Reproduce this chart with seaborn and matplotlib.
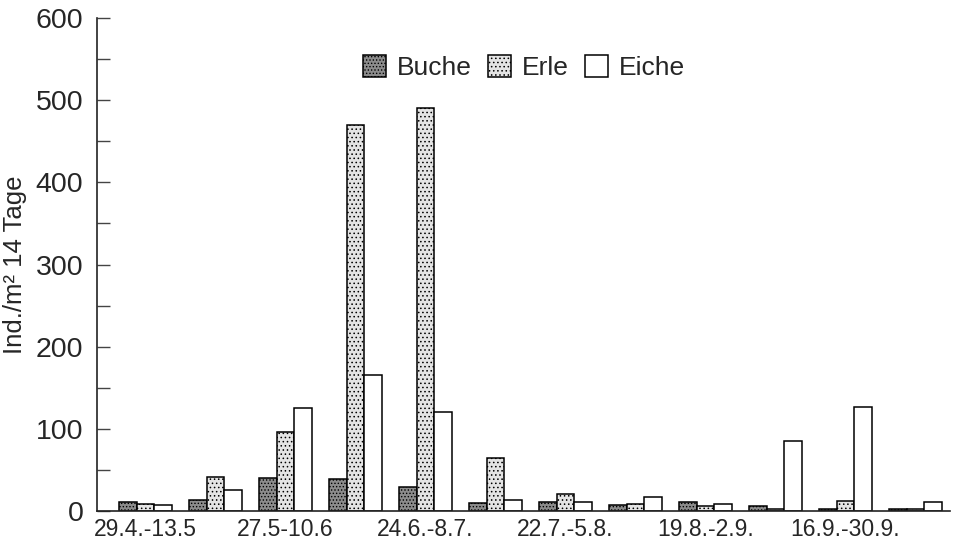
import matplotlib
matplotlib.use("Agg")
import matplotlib.pyplot as plt
from matplotlib.ticker import MultipleLocator
import pandas as pd
import seaborn as sns

periods = ['29.4.-13.5', '13.5.-27.5.', '27.5-10.6', '10.6.-24.6.', '24.6.-8.7.', '8.7.-22.7.',
           '22.7.-5.8.', '5.8.-19.8.', '19.8.-2.9.', '2.9.-16.9.', '16.9.-30.9.', '30.9.-14.10.']
buche = [11, 13, 40, 39, 29, 10, 11, 7, 11, 6, 2, 2]
erle = [9, 41, 96, 470, 490, 65, 21, 9, 6, 3, 12, 2]
eiche = [7, 26, 125, 165, 120, 13, 11, 17, 9, 85, 127, 11]
species = ['Buche', 'Erle', 'Eiche']

df = pd.DataFrame({'period': periods * 3,
                   'species': [s for s in species for _ in periods],
                   'value': buche + erle + eiche})

sns.set_style('ticks')
plt.rcParams['font.family'] = ['Liberation Sans', 'DejaVu Sans']
plt.rcParams['hatch.linewidth'] = 0.6

fig = plt.figure(figsize=(9.63, 5.46), dpi=100)
ax = fig.add_axes([0.101, 0.064, 0.886, 0.903])

colors = {'Buche': '#8c8c8c', 'Erle': '#e4e4e4', 'Eiche': 'white'}
sns.barplot(data=df, x='period', y='value', hue='species', palette=colors,
            width=0.76, edgecolor='black', linewidth=1.1, saturation=1, ax=ax)

# stipple patterns like the printed original
hatches = ['.....', '....', '']
for cont, h in zip(ax.containers, hatches):
    for bar in cont:
        bar.set_hatch(h)

ax.set_xlim(-0.69, 11.5)
ax.set_ylim(0, 600)
ax.yaxis.set_major_locator(MultipleLocator(100))
ax.yaxis.set_minor_locator(MultipleLocator(50))
ax.tick_params(axis='y', which='both', direction='in', length=9, width=1, labelsize=20.5,
               pad=10, color='#444444')
ax.tick_params(axis='x', length=0, labelsize=16.5, pad=5)
ax.set_xticks(range(len(periods)))
ax.set_xticklabels([p if i % 2 == 0 else '' for i, p in enumerate(periods)])
ax.set_xlabel('')
ax.set_ylabel('Ind./m² 14 Tage', fontsize=18.5, labelpad=6)
sns.despine(ax=ax)
for s in ['left', 'bottom']:
    ax.spines[s].set_linewidth(1.2)
    ax.spines[s].set_color('#222222')

handles, labels = ax.get_legend_handles_labels()
for hd, h in zip(handles, hatches):
    hd.set_hatch(h)
ax.legend(handles, labels, loc='center', bbox_to_anchor=(0.5, 0.9), ncol=3, frameon=False,
          fontsize=19, handlelength=0.9, handleheight=0.9, handletextpad=0.4, columnspacing=0.6)

fig.savefig('out.png', dpi=100)
